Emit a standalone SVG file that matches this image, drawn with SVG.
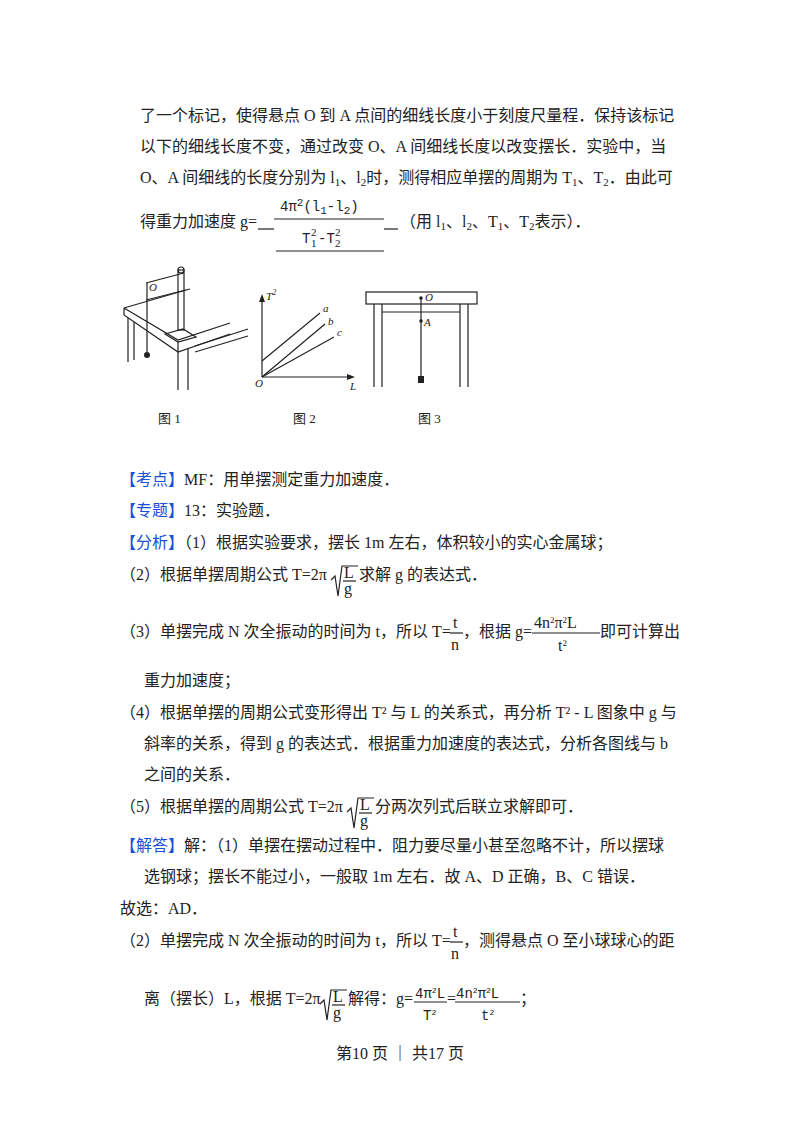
<svg xmlns="http://www.w3.org/2000/svg" width="800" height="1132" viewBox="0 0 800 1132">
<style>
text{font-family:"Liberation Serif","Noto Sans CJK SC",serif;font-size:16px;fill:#222}
.b{fill:#1a4fd6}
.s{font-size:11px}
.m{font-size:14px;font-family:"Liberation Mono","Noto Sans CJK SC",monospace}
.l{stroke:#222;stroke-width:1.2;fill:none}
.f{font-size:13px;font-family:"Liberation Serif","Noto Sans CJK SC",serif}
.i{font-style:italic;font-size:11px}
</style>
<rect width="800" height="1132" fill="#fff"/>
<g id="top">
<text x="140" y="121">了一个标记，使得悬点 O 到 A 点间的细线长度小于刻度尺量程．保持该标记</text>
<text x="140" y="152">以下的细线长度不变，通过改变 O、A 间细线长度以改变摆长．实验中，当</text>
<text x="140" y="183">O、A 间细线的长度分别为 l<tspan class="s" dy="3">1</tspan><tspan dy="-3">、l</tspan><tspan class="s" dy="3">2</tspan><tspan dy="-3">时，测得相应单摆的周期为 T</tspan><tspan class="s" dy="3">1</tspan><tspan dy="-3">、T</tspan><tspan class="s" dy="3">2</tspan><tspan dy="-3">．由此可</tspan></text>
<text x="140" y="227">得重力加速度 g=</text>
<line class="l" x1="258" y1="229" x2="274" y2="229"/>
<text class="m" x="280" y="211">4π<tspan class="s" dy="-5">2</tspan><tspan dy="5">(l</tspan><tspan class="s" dy="3">1</tspan><tspan dy="-3">-l</tspan><tspan class="s" dy="3">2</tspan><tspan dy="-3">)</tspan></text>
<line class="l" x1="274" y1="219" x2="384" y2="219" stroke-width="1"/>
<text class="m" x="302" y="243">T</text><text class="s" x="311" y="247">1</text><text class="s" x="311" y="236">2</text>
<text class="m" x="318" y="243">-T</text><text class="s" x="335" y="247">2</text><text class="s" x="335" y="236">2</text>
<line class="l" x1="276" y1="251" x2="384" y2="251" stroke-width="1"/>
<line class="l" x1="384" y1="229" x2="398" y2="229"/>
<text x="400" y="227">（用 l<tspan class="s" dy="3">1</tspan><tspan dy="-3">、l</tspan><tspan class="s" dy="3">2</tspan><tspan dy="-3">、T</tspan><tspan class="s" dy="3">1</tspan><tspan dy="-3">、T</tspan><tspan class="s" dy="3">2</tspan><tspan dy="-3">表示）．</tspan></text>
</g>
<g id="fig1">
<line class="l" x1="146" y1="283" x2="184" y2="273"/>
<line class="l" x1="146" y1="300" x2="190" y2="289"/>
<rect x="178" y="270" width="6" height="60" class="l" fill="#fff"/>
<circle cx="181" cy="270" r="3" class="l"/>
<line class="l" x1="147" y1="283" x2="147" y2="355"/>
<circle cx="147" cy="355" r="3" fill="#222"/>
<text class="i" x="149" y="291">O</text>
<path class="l" d="M124 308 L124 315 L178 352 L230 334 M124 308 L178 340 L230 323"/>
<path class="l" d="M124 308 L186 290"/>
<path class="l" d="M165 334 L183 329 L196 337 L178 342 Z"/>
<path class="l" d="M178 342 L178 352 M178 352 L178 390 M188 348 L188 390 M128 318 L128 362 M134 322 L134 360"/>
<path class="l" d="M195 346 L248 329 M195 352 L248 336"/>
</g>
<g id="fig2">
<line class="l" x1="262" y1="377" x2="262" y2="300"/>
<path d="M262 294 L259 302 L265 302 Z" fill="#222"/>
<line class="l" x1="262" y1="377" x2="350" y2="377"/>
<path d="M355 377 L347 374 L347 380 Z" fill="#222"/>
<line class="l" x1="262" y1="361" x2="320" y2="313"/>
<line class="l" x1="262" y1="377" x2="325" y2="324"/>
<line class="l" x1="262" y1="377" x2="334" y2="337"/>
<text class="i" x="266" y="300" font-size="12">T<tspan dy="-5" font-size="8">2</tspan></text>
<text class="i" x="323" y="312">a</text><text class="i" x="328" y="325">b</text><text class="i" x="337" y="336">c</text>
<text class="i" x="255" y="387" font-size="12">O</text><text class="i" x="350" y="390" font-size="12">L</text>
</g>
<g id="fig3">
<rect x="366" y="292" width="111" height="12" class="l"/>
<path class="l" d="M374 304 V387 M382 304 V387 M460 304 V387 M468 304 V387 M382 312 H460"/>
<line class="l" x1="421" y1="298" x2="421" y2="377" stroke-width="1"/>
<circle cx="421" cy="298" r="1.8" fill="#222"/><circle cx="421" cy="321" r="1.8" fill="#222"/>
<text class="i" x="425" y="301" font-size="9">O</text><text class="i" x="424" y="326" font-size="9">A</text>
<rect x="418" y="376" width="6" height="7" fill="#222"/>
</g>
<g id="captions">
<text class="f" x="158" y="423">图 1</text><text class="f" x="293" y="423">图 2</text><text class="f" x="418" y="423">图 3</text>
</g>
<g id="body">
<text x="120" y="485"><tspan class="b">【考点】</tspan>MF：用单摆测定重力加速度．</text>
<text x="120" y="516"><tspan class="b">【专题】</tspan>13：实验题．</text>
<text x="120" y="548"><tspan class="b">【分析】</tspan>（1）根据实验要求，摆长 1m 左右，体积较小的实心金属球；</text>
<text x="120" y="580">（2）根据单摆周期公式 T=2π</text>
<path class="l" d="M331 580 L335 576 L338 596 L342 566 L358 566" stroke-width="1"/>
<text x="344" y="578" font-size="12">L</text><text x="344" y="594" font-size="12">g</text>
<line class="l" x1="343" y1="581" x2="356" y2="581" stroke-width="0.8"/>
<text x="359" y="580">求解 g 的表达式．</text>
<text x="120" y="637">（3）单摆完成 N 次全振动的时间为 t，所以 T=</text>
<text x="453" y="628" font-size="13">t</text><text x="451" y="650" font-size="13">n</text>
<line class="l" x1="450" y1="633" x2="463" y2="633" stroke-width="0.8"/>
<text x="463" y="637">，根据 g=</text>
<text x="534" y="628" font-size="14">4n<tspan font-size="9" dy="-5">2</tspan><tspan dy="5">π</tspan><tspan font-size="9" dy="-5">2</tspan><tspan dy="5">L</tspan></text>
<line class="l" x1="532" y1="633" x2="600" y2="633" stroke-width="0.8"/>
<text x="558" y="651" font-size="13">t<tspan font-size="9" dy="-5">2</tspan></text>
<text x="600" y="637">即可计算出</text>
<text x="144" y="686">重力加速度；</text>
<text x="120" y="718">（4）根据单摆的周期公式变形得出 T² 与 L 的关系式，再分析 T² - L 图象中 g 与</text>
<text x="144" y="749">斜率的关系，得到 g 的表达式．根据重力加速度的表达式，分析各图线与 b</text>
<text x="144" y="780">之间的关系．</text>
<text x="120" y="812">（5）根据单摆的周期公式 T=2π</text>
<path class="l" d="M347 812 L351 808 L354 828 L358 798 L374 798" stroke-width="1"/>
<text x="360" y="810" font-size="12">L</text><text x="360" y="826" font-size="12">g</text>
<line class="l" x1="359" y1="813" x2="372" y2="813" stroke-width="0.8"/>
<text x="375" y="812">分两次列式后联立求解即可．</text>
<text x="120" y="851"><tspan class="b">【解答】</tspan>解：（1）单摆在摆动过程中．阻力要尽量小甚至忽略不计，所以摆球</text>
<text x="144" y="882">选钢球；摆长不能过小，一般取 1m 左右．故 A、D 正确，B、C 错误．</text>
<text x="120" y="914">故选：AD．</text>
<text x="120" y="946">（2）单摆完成 N 次全振动的时间为 t，所以 T=</text>
<text x="453" y="937" font-size="13">t</text><text x="451" y="959" font-size="13">n</text>
<line class="l" x1="450" y1="942" x2="463" y2="942" stroke-width="0.8"/>
<text x="463" y="946">，测得悬点 O 至小球球心的距</text>
<text x="144" y="1004">离（摆长）L，根据 T=2π</text>
<path class="l" d="M320 1004 L324 1000 L327 1020 L331 990 L347 990" stroke-width="1"/>
<text x="333" y="1002" font-size="12">L</text><text x="333" y="1018" font-size="12">g</text>
<line class="l" x1="332" y1="1005" x2="345" y2="1005" stroke-width="0.8"/>
<text x="348" y="1004">解得：g=</text>
<text class="m" x="415" y="998" font-size="12">4π<tspan font-size="8" dy="-5">2</tspan><tspan dy="5">L</tspan></text>
<line class="l" x1="414" y1="1002" x2="447" y2="1002" stroke-width="0.8"/>
<text class="m" x="423" y="1020" font-size="12">T<tspan font-size="8" dy="-5">2</tspan></text>
<text x="447" y="1004">=</text>
<text class="m" x="456" y="998" font-size="12">4n<tspan font-size="8" dy="-5">2</tspan><tspan dy="5">π</tspan><tspan font-size="8" dy="-5">2</tspan><tspan dy="5">L</tspan></text>
<line class="l" x1="455" y1="1002" x2="520" y2="1002" stroke-width="0.8"/>
<text class="m" x="481" y="1020" font-size="12">t<tspan font-size="8" dy="-5">2</tspan></text>
<text x="520" y="1004">；</text>
<text x="400" y="1059" font-size="12" text-anchor="middle">第10 页 ｜ 共17 页</text>
</g>
</svg>
